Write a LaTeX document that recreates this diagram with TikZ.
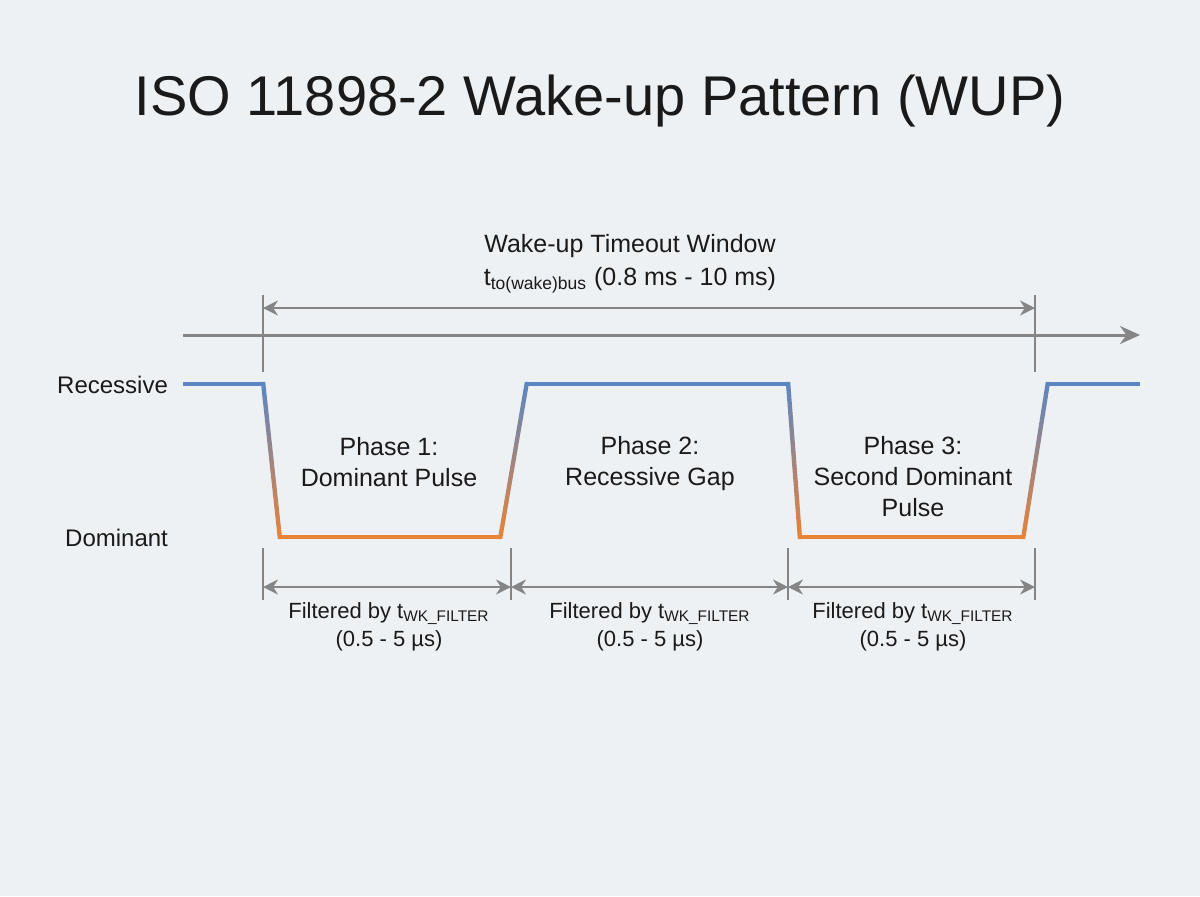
\documentclass[tikz,border=0pt]{standalone}
\usepackage{fontspec}
\setmainfont{Liberation Sans}
\usetikzlibrary{arrows.meta}
\definecolor{bggray}{HTML}{EEF1F3}
\definecolor{axisgray}{HTML}{858585}
\definecolor{sigblue}{HTML}{5B86C3}
\definecolor{sigorange}{HTML}{E8833A}
\definecolor{textdark}{HTML}{1A1A1A}
\begin{document}
\begin{tikzpicture}[x=0.5pt,y=-0.5pt,
    every node/.style={text=textdark},
    tickline/.style={draw=axisgray, line width=1pt},
    dimline/.style={draw=axisgray, line width=1pt,
        {Stealth[length=7.5pt,width=7.5pt]}-{Stealth[length=7.5pt,width=7.5pt]}},
    level/.style={anchor=east, font=\fontsize{12}{15}\selectfont},
    phase/.style={align=center, font=\fontsize{12.5}{15.5}\selectfont},
    filt/.style={align=center, font=\fontsize{11}{14}\selectfont},
    recline/.style={draw=sigblue, line width=2.2pt},
    domline/.style={draw=sigorange, line width=2.2pt}]
    \useasboundingbox (0,0) rectangle (1200,896);
    \fill[bggray] (0,0) rectangle (1200,896);

    % title
    \node (title) at (600,101) {\fontsize{28}{32}\selectfont ISO 11898-2 Wake-up Pattern (WUP)};

    % time axis
    \coordinate (axisL) at (183,335);
    \coordinate (axisR) at (1140,335);
    \draw[axisgray, line width=1.5pt, -{Stealth[length=10pt,width=9pt]}] (axisL) -- (axisR);

    % timeout window
    \coordinate (wT1) at (263,295);
    \coordinate (wB1) at (263,372);
    \coordinate (wT2) at (1035,295);
    \coordinate (wB2) at (1035,372);
    \draw[tickline] (wT1) -- (wB1);
    \draw[tickline] (wT2) -- (wB2);
    \coordinate (wL) at (263,308);
    \coordinate (wR) at (1035,308);
    \draw[dimline] (wL) -- (wR);
    \node[align=center, font=\fontsize{12.5}{16.5}\selectfont] (window) at (630,264)
        {Wake-up Timeout Window\\t\textsubscript{to(wake)bus} (0.8 ms - 10 ms)};

    % levels
    \node[level] (rec) at (175,385) {Recessive};
    \node[level] (dom) at (175,538) {Dominant};

    % bus signal
    \coordinate (s0) at (183,384);
    \coordinate (s1) at (263,384);
    \coordinate (s2) at (280,537);
    \coordinate (s3) at (500,537);
    \coordinate (s4) at (527,384);
    \coordinate (s5) at (788,384);
    \coordinate (s6) at (800,537);
    \coordinate (s7) at (1023,537);
    \coordinate (s8) at (1048,384);
    \coordinate (s9) at (1140,384);
    \draw[recline] (s0) -- (s1);
    \draw[recline] (s4) -- (s5);
    \draw[recline] (s8) -- (s9);
    \draw[domline] (s2) -- (s3);
    \draw[domline] (s6) -- (s7);
    \foreach \xt/\xb in {263/280, 527/500, 788/800, 1048/1023}
        \shade[top color=sigblue, bottom color=sigorange]
            (\xt-2.2,381.8) -- (\xt+2.2,381.8) -- (\xb+2.2,539.2) -- (\xb-2.2,539.2) -- cycle;

    % phases
    \node[phase] (ph1) at (389,462) {Phase 1:\\Dominant Pulse};
    \node[phase] (ph2) at (650,464) {Phase 2:\\Recessive Gap};
    \node[phase] (ph3) at (913,477) {Phase 3:\\Second Dominant\\Pulse};

    % filter times
    \foreach \n/\x in {a/263, b/511, c/788, d/1035} {
        \coordinate (fT\n) at (\x,548);
        \coordinate (fB\n) at (\x,600);
        \coordinate (f\n) at (\x,587);
        \draw[tickline] (fT\n) -- (fB\n);
    }
    \draw[dimline] (fa) -- (fb);
    \draw[dimline] (fb) -- (fc);
    \draw[dimline] (fc) -- (fd);
    \node[filt] (flt1) at (389,627) {Filtered by t\textsubscript{WK\_FILTER}\\(0.5 - 5 µs)};
    \node[filt] (flt2) at (650,627) {Filtered by t\textsubscript{WK\_FILTER}\\(0.5 - 5 µs)};
    \node[filt] (flt3) at (913,627) {Filtered by t\textsubscript{WK\_FILTER}\\(0.5 - 5 µs)};
\end{tikzpicture}
\end{document}
